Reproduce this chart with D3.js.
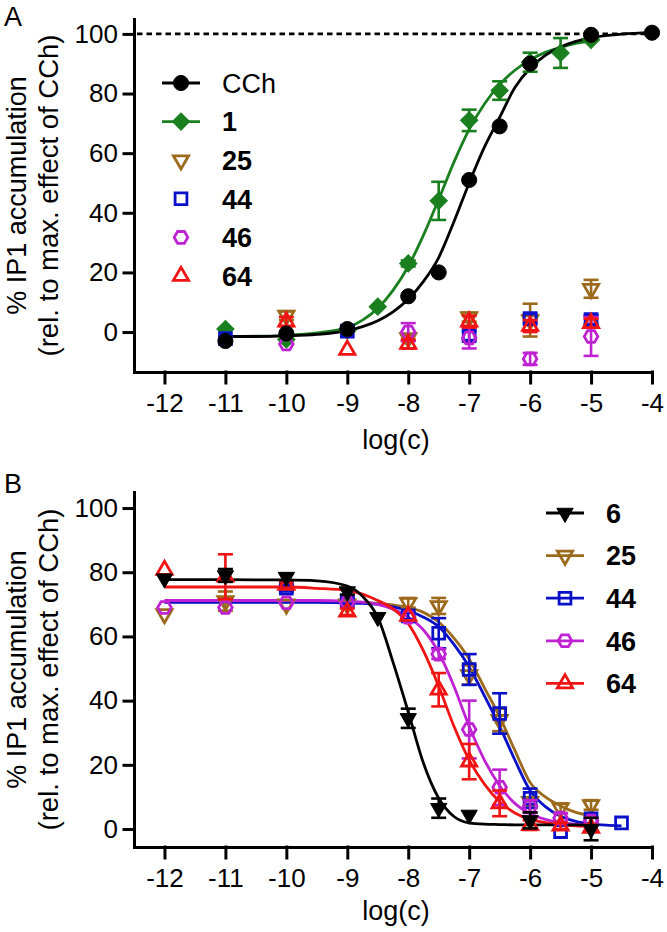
<!DOCTYPE html>
<html><head><meta http-equiv="Content-Type" content="text/html; charset=UTF-8">
<script src="https://d3js.org/d3.v7.min.js"></script>
<style>
  body { margin: 0; background: #fff; }
  svg text { font-family: "Liberation Sans", Arial, sans-serif; fill: #000; }
</style>
</head>
<body>
<script type="text/javascript">
"use strict";
// ---------- shared ticks ----------
const ticksX = [-12, -11, -10, -9, -8, -7, -6, -5, -4];
const ticksY = [0, 20, 40, 60, 80, 100];

// ---------- panel A : points ----------
const cchX   = [-11, -10, -9, -8, -7.5, -7, -6.5, -6, -5, -4];
const cchY   = [-3, -0.5, 1, 12, 20, 51, 69, 90, 99.7, 100.4];
const cchErr = [0, 0, 0, 0, 0, 0, 0, 0, 0, 0];

const c1X   = [-11, -10, -9, -8.5, -8, -7.5, -7, -6.5, -6, -5.5, -5];
const c1Y   = [1, -2.5, 0.5, 8.5, 23, 44, 71, 81, 90.5, 93.6, 98];
const c1Err = [0, 0, 0, 0, 1, 6.4, 3.6, 3.1, 3.2, 5, 0];

const a25X   = [-10, -8, -7, -6, -5];
const a25Y   = [5.5, -2, 5, 4, 14.5];
const a25Err = [1.5, 1, 1.5, 5.5, 3];

const a44X   = [-11, -9, -7, -6, -5];
const a44Y   = [-2.2, 0.3, -1.2, 4.5, 4.2];
const a44Err = [0, 0, 1.5, 1.5, 1.5];

const a46X   = [-10, -8, -7, -6, -5];
const a46Y   = [-4, 0, -2, -9, -1.5];
const a46Err = [0, 3, 3.5, 2, 6.5];

const a64X   = [-10, -9, -8, -7, -6, -5];
const a64Y   = [3.5, -6, -4, 3.5, 2, 3];
const a64Err = [1.5, 0, 1.5, 2, 2, 1.5];

// ---------- panel A : fitted curves ----------
const cchFitX = [-11, -10.5, -10, -9.5, -9, -8.75, -8.5, -8.25, -8, -7.75, -7.5, -7.25, -7, -6.75, -6.5, -6.25, -6, -5.75, -5.5, -5.25, -5, -4.5, -4];
const cchFitY = [-1.5, -1.5, -1.3, -0.8, 0.5, 1.8, 3.8, 6.8, 11, 17, 25, 37, 50, 62, 72, 82, 88.5, 92.8, 95.6, 97.5, 98.7, 99.9, 100.4];

const c1FitX = [-11, -10.5, -10, -9.5, -9, -8.75, -8.5, -8.25, -8, -7.75, -7.5, -7.25, -7, -6.75, -6.5, -6.25, -6, -5.75, -5.5, -5.25, -5];
const c1FitY = [-1.5, -1.4, -1.1, -0.3, 1.5, 4, 8, 14, 22, 32.5, 44.5, 57, 68, 76.5, 83, 87.8, 91.3, 93.8, 95.5, 96.8, 97.6];

// ---------- panel B : points ----------
const b6X   = [-12, -11, -10, -9, -8.5, -8, -7.5, -7, -6, -5];
const b6Y   = [78, 79, 78.5, 74, 66, 34.5, 6.5, 4.4, 2.7, 0];
const b6Err = [0, 2, 1, 1, 0, 3, 3, 0, 2.5, 3.5];

const b25X   = [-12, -11, -10, -9, -8, -7.5, -7, -6.5, -6, -5.5, -5];
const b25Y   = [67, 71, 70, 70, 70.5, 69.5, 48, 34, 8.5, 6.5, 7.5];
const b25Err = [0, 3, 0, 0, 1.5, 2.5, 3, 3.5, 1, 1.5, 1.5];

const b44X   = [-10, -9, -8, -7.5, -7, -6.5, -6, -5.5, -5, -4.5];
const b44Y   = [75, 71, 66.4, 61, 49.7, 36, 9.6, -0.8, 3.2, 1.9];
const b44Err = [1, 1, 1, 4.7, 4.8, 6.3, 3, 0, 0, 0];

const b46X   = [-12, -11, -10, -9, -8, -7.5, -7, -6.5, -6, -5.5, -5];
const b46Y   = [69, 69, 70.5, 70.5, 66, 54.5, 31, 13, 7, 3.4, 2.5];
const b46Err = [0, 0, 0, 0, 0, 1.5, 9, 5.5, 2, 1.5, 1];

const b64X   = [-12, -11, -10, -9, -8, -7.5, -7, -6.5, -6, -5.5, -5];
const b64Y   = [80.7, 78.6, 76, 67.7, 66.4, 43.4, 21, 8, 1.2, 1, 0.3];
const b64Err = [0, 7, 1, 1, 0, 5.2, 5.5, 4, 1.5, 1, 1];

// ---------- panel B : fitted curves ----------
const bFitX = [-12, -11, -10, -9.5, -9, -8.75, -8.5, -8.25, -8, -7.75, -7.5, -7.25, -7, -6.75, -6.5, -6.25, -6, -5.75, -5.5, -5.25, -5];
const b6FitY  = [77.7, 77.7, 77.6, 77.3, 75.7, 72.5, 66, 52, 36.5, 20.5, 9.6, 3.9, 1.9, 1.5, 1.4, 1.3, 1.3, 1.3, 1.3, 1.3, 1.3];
const b25FitY = [70.8, 70.8, 70.8, 70.8, 70.7, 70.6, 70.3, 69.8, 69, 67.5, 64.5, 59.5, 53, 44, 35, 24.5, 14.5, 10, 7.2, 5.2, 4.2];
const b46FitY = [71.2, 71.2, 71.2, 71.2, 71, 70.7, 70, 68.5, 66, 62, 55, 44.5, 32, 21.5, 13.5, 8, 4.8, 3, 2, 1.5, 1.2];
const b64FitY = [75.4, 75.4, 75.4, 75, 74.3, 73.2, 71.2, 68.6, 64, 55.5, 44.5, 32, 21.5, 14, 8.5, 5, 3, 2, 1.3, 1, 0.8];
const b44FitX = [-12, -11, -10, -9.5, -9, -8.75, -8.5, -8.25, -8, -7.75, -7.5, -7.25, -7, -6.75, -6.5, -6.25, -6, -5.75, -5.5, -5.25, -5, -4.75, -4.5];
const b44FitY = [70.6, 70.6, 70.6, 70.6, 70.5, 70.3, 70, 69.2, 68, 66, 63, 57.5, 50.5, 41.5, 32, 21.5, 12, 7, 4, 2.4, 1.6, 1.2, 1];

// ---------- legends ----------
const legendA = ["CCh", "1", "25", "44", "46", "64"];
const legendB = ["6", "25", "44", "46", "64"];

// colours per compound
const col = {
  cch: "#000000", c1: "#1a7f1f", c25: "#9c6a1c",
  c44: "#0a10c8", c46: "#bf22d2", c64: "#f01414", c6: "#000000"
};

// hexagon symbol (flat top / bottom)
const hexagon = {
  draw(ctx, size) {
    const r = Math.sqrt(size / 2.598);
    for (let i = 0; i < 6; i++) {
      const a = Math.PI / 3 * i;
      if (i === 0) ctx.moveTo(r * Math.cos(a), r * Math.sin(a));
      else ctx.lineTo(r * Math.cos(a), r * Math.sin(a));
    }
    ctx.closePath();
  }
};

const SYM = {
  circle:  { type: d3.symbolCircle,   size: 180, rot: 0 },
  diamond: { type: d3.symbolSquare,   size: 150, rot: 45 },
  down:    { type: d3.symbolTriangle, size: 100, rot: 180 },
  downF:   { type: d3.symbolTriangle, size: 115, rot: 180 },
  up:      { type: d3.symbolTriangle, size: 100, rot: 0 },
  square:  { type: d3.symbolSquare,   size: 140, rot: 0 },
  hex:     { type: hexagon,           size: 120, rot: 0 }
};

const W = 667, H = 932;
const svg = d3.select("body").append("svg").attr("width", W).attr("height", H);

function drawSymbol(g, kind, color, filled, cx, cy) {
  const s = SYM[kind];
  g.append("path")
    .attr("d", d3.symbol().type(s.type).size(s.size)())
    .attr("transform", `translate(${cx},${cy}) rotate(${s.rot})`)
    .attr("fill", filled ? color : "#fff")
    .attr("fill-opacity", filled ? 1 : 0)
    .attr("stroke", color)
    .attr("stroke-width", filled ? 1 : 2.8);
}

function drawPanel(p) {
  const g = svg.append("g");
  const x = d3.scaleLinear().domain([-12.5, -4]).range([134, 652]);
  const y = d3.scaleLinear().domain(p.yDomain).range(p.yRange);

  // panel letter
  g.append("text").attr("x", 4).attr("y", p.letterY)
    .attr("font-size", 27).text(p.letter);

  // axes
  const xAxis = d3.axisBottom(x).tickValues(ticksX).tickSize(11).tickSizeOuter(0)
    .tickPadding(11).tickFormat(d => String(d));
  const yAxis = d3.axisLeft(y).tickValues(ticksY).tickSize(10).tickSizeOuter(0)
    .tickPadding(6).tickFormat(d => String(d));
  const gx = g.append("g").attr("transform", `translate(0,${p.yRange[0]})`).call(xAxis);
  const gy = g.append("g").attr("transform", "translate(134,0)").call(yAxis);
  [gx, gy].forEach(a => {
    a.attr("font-family", null).attr("font-size", 26);
    a.selectAll("path, line").attr("stroke", "#000").attr("stroke-width", 3)
      .attr("stroke-linecap", "square");
    a.selectAll("text").attr("fill", "#000");
  });

  // axis titles
  g.append("text").attr("x", 396).attr("y", p.xTitleY)
    .attr("text-anchor", "middle").attr("font-size", 27).text("log(c)");
  const yc = (p.yRange[0] + p.yRange[1]) / 2;
  g.append("text").attr("transform", `translate(26,${yc}) rotate(-90)`)
    .attr("text-anchor", "middle").attr("font-size", 27).text("% IP1 accumulation");
  g.append("text").attr("transform", `translate(58,${yc}) rotate(-90)`)
    .attr("text-anchor", "middle").attr("font-size", 27.5).text("(rel. to max. effect of CCh)");

  // reference line
  if (p.refLine) {
    g.append("line").attr("x1", x(-12.5) + 3).attr("x2", x(-4) + 3)
      .attr("y1", y(100)).attr("y2", y(100))
      .attr("stroke", "#000").attr("stroke-width", 2.8).attr("stroke-dasharray", "5.5,4");
  }

  const line = d3.line().x(d => x(d[0])).y(d => y(d[1])).curve(d3.curveMonotoneX);

  // fitted curves
  p.series.filter(s => s.fitX).forEach(s => {
    g.append("path").datum(d3.zip(s.fitX, s.fitY))
      .attr("d", line).attr("fill", "none")
      .attr("stroke", s.color).attr("stroke-width", 2.8);
  });

  // error bars and symbols
  p.series.forEach(s => {
    const pts = d3.zip(s.x, s.y, s.err);
    pts.forEach(([vx, vy, e]) => {
      if (e > 0) {
        const px = x(vx), y1 = y(vy - e), y2 = y(vy + e);
        g.append("line").attr("x1", px).attr("x2", px).attr("y1", y1).attr("y2", y2)
          .attr("stroke", s.color).attr("stroke-width", 2.6);
        [y1, y2].forEach(yy => g.append("line")
          .attr("x1", px - 7.5).attr("x2", px + 7.5).attr("y1", yy).attr("y2", yy)
          .attr("stroke", s.color).attr("stroke-width", 2.6));
      }
    });
    pts.forEach(([vx, vy]) => drawSymbol(g, s.sym, s.color, s.filled, x(vx), y(vy)));
  });

  // legend
  p.legend.forEach((name, i) => {
    const s = p.series.find(d => d.name === name);
    const ly = p.legendY + i * p.legendStep;
    const lx = p.legendX;
    if (s.legendLine) {
      g.append("line").attr("x1", lx - 19).attr("x2", lx + 19).attr("y1", ly).attr("y2", ly)
        .attr("stroke", s.color).attr("stroke-width", 2.8);
    }
    drawSymbol(g, s.sym, s.color, s.filled, lx, ly);
    g.append("text").attr("x", lx + 41).attr("y", ly).attr("dy", "0.36em")
      .attr("font-size", 27).attr("font-weight", name === "CCh" ? "normal" : "bold")
      .text(name);
  });
}

drawPanel({
  letter: "A", letterY: 26,
  yDomain: [-13.4, 105], yRange: [372, 19],
  xTitleY: 449, refLine: true,
  legend: legendA, legendX: 181, legendY: 83, legendStep: 38.6,
  series: [
    { name: "1",   color: col.c1,  sym: "diamond", filled: true,  legendLine: true,  x: c1X,  y: c1Y,  err: c1Err,  fitX: c1FitX,  fitY: c1FitY },
    { name: "25",  color: col.c25, sym: "down",    filled: false, legendLine: false, x: a25X, y: a25Y, err: a25Err },
    { name: "44",  color: col.c44, sym: "square",  filled: false, legendLine: false, x: a44X, y: a44Y, err: a44Err },
    { name: "46",  color: col.c46, sym: "hex",     filled: false, legendLine: false, x: a46X, y: a46Y, err: a46Err },
    { name: "64",  color: col.c64, sym: "up",      filled: false, legendLine: false, x: a64X, y: a64Y, err: a64Err },
    { name: "CCh", color: col.cch, sym: "circle",  filled: true,  legendLine: true,  x: cchX, y: cchY, err: cchErr, fitX: cchFitX, fitY: cchFitY }
  ]
});

drawPanel({
  letter: "B", letterY: 493,
  yDomain: [-5.6, 105], yRange: [847, 492],
  xTitleY: 920, refLine: false,
  legend: legendB, legendX: 565, legendY: 513, legendStep: 42.6,
  series: [
    { name: "25", color: col.c25, sym: "down",   filled: false, legendLine: true, x: b25X, y: b25Y, err: b25Err, fitX: bFitX,   fitY: b25FitY },
    { name: "44", color: col.c44, sym: "square", filled: false, legendLine: true, x: b44X, y: b44Y, err: b44Err, fitX: b44FitX, fitY: b44FitY },
    { name: "46", color: col.c46, sym: "hex",    filled: false, legendLine: true, x: b46X, y: b46Y, err: b46Err, fitX: bFitX,   fitY: b46FitY },
    { name: "64", color: col.c64, sym: "up",     filled: false, legendLine: true, x: b64X, y: b64Y, err: b64Err, fitX: bFitX,   fitY: b64FitY },
    { name: "6",  color: col.c6,  sym: "downF",  filled: true,  legendLine: true, x: b6X,  y: b6Y,  err: b6Err,  fitX: bFitX,   fitY: b6FitY }
  ]
});
</script>
</body>
</html>
